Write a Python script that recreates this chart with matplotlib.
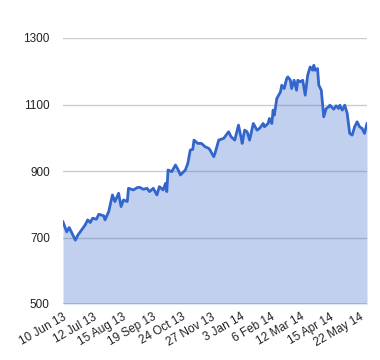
import numpy as np
import matplotlib
matplotlib.use('Agg')
from matplotlib import pyplot as plt

plt.rcParams['font.family'] = ['Liberation Sans', 'DejaVu Sans']

# trading-day position of each sample, and the index value
day = [0, 3, 5, 7, 10, 12, 18, 20, 22, 24, 27, 29, 33, 34, 37, 40, 42, 45, 47, 49,
       52, 53, 57, 60, 62, 65, 68, 70, 73, 76, 78, 81, 83, 84, 85, 88, 91, 93, 95, 99,
       101, 103, 105, 106, 109, 112, 115, 118, 119, 122, 123, 126, 130, 132, 134, 136,
       139, 142, 144, 145, 147, 149, 151, 154, 157, 159, 162, 163, 166, 167, 169, 170,
       171, 173, 176, 177, 179, 181, 182, 184, 185, 187, 189, 190, 192, 194, 196, 198,
       200, 202, 203, 204, 206, 207, 209, 211, 213, 215, 216, 219, 221, 223, 224, 226,
       228, 230, 232, 234, 236, 238, 240, 242, 244, 246]
value = [747, 717, 730, 715, 692, 707, 738, 753, 745, 758, 755, 770, 765, 753, 778, 828,
         808, 833, 793, 813, 808, 848, 843, 850, 851, 845, 848, 838, 848, 828, 853, 843,
         863, 838, 903, 898, 918, 905, 888, 903, 923, 963, 965, 993, 983, 983, 973, 968,
         963, 943, 953, 993, 998, 1008, 1018, 1003, 993, 1038, 1003, 983, 1023, 1018,
         993, 1043, 1023, 1028, 1043, 1033, 1043, 1058, 1043, 1083, 1068, 1118, 1138,
         1158, 1148, 1178, 1183, 1173, 1148, 1173, 1143, 1173, 1168, 1173, 1128, 1188,
         1213, 1203, 1218, 1203, 1208, 1158, 1143, 1063, 1088, 1093, 1098, 1086, 1096,
         1088, 1098, 1083, 1098, 1073, 1013, 1008, 1033, 1048, 1033, 1028, 1013, 1043]

tick_pos = [0, 24, 48, 72, 96, 120, 144, 168, 192, 216, 240]
tick_lab = ['10 Jun 13', '12 Jul 13', '15 Aug 13', '19 Sep 13', '24 Oct 13',
            '27 Nov 13', '3 Jan 14', '6 Feb 14', '12 Mar 14', '15 Apr 14', '22 May 14']
y_ticks = [500, 700, 900, 1100, 1300]

fig = plt.figure(figsize=(3.8, 3.6), dpi=100)
ax = fig.add_axes([63/380, 1-304/360, 304/380, 266/360])

for yv in y_ticks[1:]:
    ax.axhline(yv, color='#cccccc', lw=1, zorder=1)
ax.fill_between(day, value, 500, color='#3366cc', alpha=0.3, lw=0, zorder=2)
ax.plot(day, value, color='#3366cc', lw=2, zorder=3)
ax.axhline(500, color='#333333', lw=1, zorder=4)

ax.set_xlim(0, 246)
ax.set_ylim(500, 1300)
ax.set_yticks(y_ticks)
ax.set_xticks(tick_pos)
ax.set_xticklabels(tick_lab, rotation=30, ha='right', va='top', rotation_mode='anchor')
ax.tick_params(length=0, labelsize=8.5, colors='#222222')
ax.tick_params(axis='y', pad=9.5)
ax.tick_params(axis='x', pad=5)
for s in ax.spines.values():
    s.set_visible(False)

plt.savefig('out.png', dpi=100)
